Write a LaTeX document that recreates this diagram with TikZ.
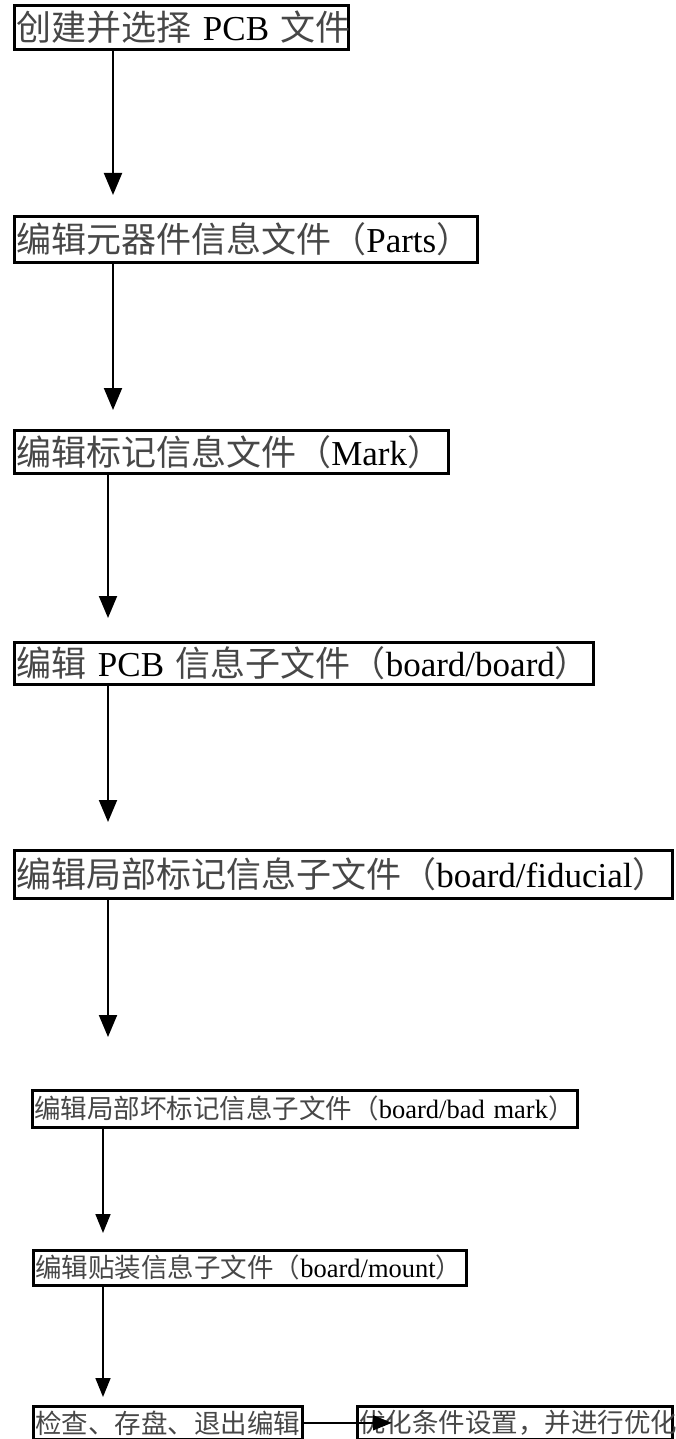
\documentclass[tikz,border=0pt]{standalone}
\usepackage{fontspec}
\setmainfont{Liberation Serif}
\newfontfamily\cjk{Noto Sans CJK SC}
\usetikzlibrary{arrows.meta,calc}
\newcommand{\zh}[1]{{\cjk\color{black!72}#1}}
\begin{document}
\begin{tikzpicture}[x=1pt,y=-1pt,
  box/.style={draw,line width=2.6pt,anchor=north west,inner xsep=2pt,inner ysep=0pt,align=left},
  big/.style={font=\fontsize{35}{40}\selectfont},
  small/.style={font=\fontsize{26.5}{30}\selectfont},
  arr/.style={line width=2pt,-{Triangle[width=18pt,length=22pt]}},
  arrs/.style={line width=1.6pt,-{Triangle[width=15pt,length=19pt]}}]
\useasboundingbox (0,0) rectangle (676,1439);

\node[box,big,minimum width=334pt,minimum height=44pt,text width=330pt] (b1) at (13,4)
  {\mbox{\zh{创建并选择} PCB \zh{文件}}};
\node[box,big,minimum width=463pt,minimum height=46pt,text width=459pt] (b2) at (13,215)
  {\mbox{\zh{编辑元器件信息文件（}Parts\zh{）}}};
\node[box,big,minimum width=434pt,minimum height=43pt,text width=430pt] (b3) at (13,429)
  {\mbox{\zh{编辑标记信息文件（}Mark\zh{）}}};
\node[box,big,minimum width=579pt,minimum height=42pt,text width=575pt] (b4) at (13,641)
  {\mbox{\zh{编辑} PCB \zh{信息子文件（}board/board\zh{）}}};
\node[box,big,minimum width=658pt,minimum height=48pt,text width=654pt] (b5) at (13,849)
  {\mbox{\zh{编辑局部标记信息子文件（}board/fiducial\zh{）}}};
\node[box,small,minimum width=545pt,minimum height=37pt,text width=541pt] (b6) at (31,1089)
  {\mbox{\zh{编辑局部坏标记信息子文件（}board/bad mark\zh{）}}};
\node[box,small,minimum width=433pt,minimum height=35pt,text width=429pt] (b7) at (32,1249)
  {\mbox{\zh{编辑贴装信息子文件（}board/mount\zh{）}}};
\node[box,small,minimum width=269pt,minimum height=33pt,text width=265pt] (b8) at (32,1405)
  {\mbox{\zh{检查、存盘、退出编辑}}};
\node[box,small,minimum width=315pt,minimum height=33pt,text width=311pt] (b9) at (356,1405)
  {\mbox{\zh{优化条件设置，并进行优化}}};

\draw[arr] ($(b1.south west)+(100,0)$) -- ($(b2.north west)+(100,-20)$);
\draw[arr] ($(b2.south west)+(100,0)$) -- ($(b3.north west)+(100,-19)$);
\draw[arr] ($(b3.south west)+(95,0)$) -- ($(b4.north west)+(95,-23)$);
\draw[arr] ($(b4.south west)+(95,0)$) -- ($(b5.north west)+(95,-27)$);
\draw[arr] ($(b5.south west)+(95,0)$) -- ($(b6.north west)+(77,-52)$);
\draw[arrs] ($(b6.south west)+(72,0)$) -- ($(b7.north west)+(71,-16)$);
\draw[arrs] ($(b7.south west)+(71,0)$) -- ($(b8.north west)+(71,-8)$);
\coordinate (h) at ($(b9.west)+(36,0)$);
\draw[arrs] (b8.east) -- (h);
\end{tikzpicture}
\end{document}
